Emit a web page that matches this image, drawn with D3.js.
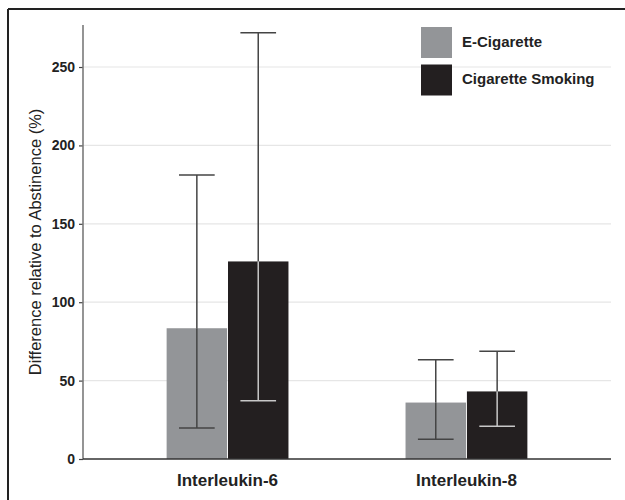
<!DOCTYPE html>
<html>
<head>
<meta charset="utf-8">
<script src="https://cdn.jsdelivr.net/npm/d3@7"></script>
<style>
  body { margin: 0; background: #fff; }
  svg { display: block; font-family: "Liberation Sans", Arial, sans-serif; }
</style>
</head>
<body>
<div id="container"></div>
<script>
/* DATA */
const categories = ["Interleukin-6", "Interleukin-8"];
const seriesNames = ["E-Cigarette", "Cigarette Smoking"];
const eCigMean = [83.4, 36.0];
const eCigLow = [19.8, 12.6];
const eCigHigh = [181.2, 63.3];
const smokeMean = [126.0, 43.1];
const smokeLow = [37.2, 20.9];
const smokeHigh = [271.9, 68.8];
const yTicks = [0, 50, 100, 150, 200, 250];

/* CONSTANTS */
const width = 625;
const height = 500;
const plotLeft = 83, plotRight = 611, plotTop = 25, plotBottom = 459;
const colors = ["#939598", "#231f20"];
const innerLine = ["#444", "#c8c8c8"]; // error bar colour when inside the bar

const rows = [];
categories.forEach((c, i) => {
  rows.push({ cat: c, s: 0, mean: eCigMean[i], lo: eCigLow[i], hi: eCigHigh[i] });
  rows.push({ cat: c, s: 1, mean: smokeMean[i], lo: smokeLow[i], hi: smokeHigh[i] });
});

const svg = d3.select("#container").append("svg")
  .attr("width", width)
  .attr("height", height);

/* SCALES */
const yScale = d3.scaleLinear().domain([0, 276.8]).range([plotBottom, plotTop]);
const x0 = d3.scaleBand().domain(categories).range([plotLeft, plotRight])
  .paddingInner(0.49).paddingOuter(0.35);
const x1 = d3.scaleBand().domain([0, 1]).range([0, x0.bandwidth()]).paddingInner(0.015);

/* frame (top and left edge only) */
svg.append("line").attr("x1", 8).attr("x2", width).attr("y1", 9).attr("y2", 9)
  .attr("stroke", "#222").attr("stroke-width", 2);
svg.append("line").attr("x1", 8).attr("x2", 8).attr("y1", 9).attr("y2", height)
  .attr("stroke", "#222").attr("stroke-width", 2);

/* GRID */
svg.append("g").selectAll("line")
  .data(yTicks.filter(d => d > 0))
  .join("line")
  .attr("x1", plotLeft).attr("x2", plotRight)
  .attr("y1", d => yScale(d)).attr("y2", d => yScale(d))
  .attr("stroke", "#e6e6e6").attr("stroke-width", 1.2);

/* Y AXIS */
const yAxis = d3.axisLeft(yScale).tickValues(yTicks).tickSize(4).tickPadding(4);
const yg = svg.append("g").attr("transform", `translate(${plotLeft},0)`).call(yAxis);
yg.select(".domain").remove();
yg.selectAll(".tick line").attr("stroke", "#444").attr("stroke-width", 1.2);
yg.selectAll(".tick text")
  .attr("font-size", 14).attr("font-weight", "bold").attr("fill", "#222")
  .attr("font-family", "Liberation Sans, Arial, sans-serif");
svg.append("line").attr("x1", plotLeft).attr("x2", plotLeft).attr("y1", plotTop).attr("y2", plotBottom)
  .attr("stroke", "#7a7a7a").attr("stroke-width", 1.6);

svg.append("text")
  .attr("transform", `translate(37,${(plotTop + plotBottom) / 2}) rotate(-90)`)
  .attr("text-anchor", "middle").attr("dominant-baseline", "middle")
  .attr("font-size", 16.5).attr("fill", "#222")
  .text("Difference relative to Abstinence (%)");

/* BARS */
const barX = d => x0(d.cat) + x1(d.s);
svg.append("g").selectAll("rect")
  .data(rows)
  .join("rect")
  .attr("x", barX)
  .attr("y", d => yScale(d.mean))
  .attr("width", x1.bandwidth())
  .attr("height", d => plotBottom - yScale(d.mean))
  .attr("fill", d => colors[d.s]);

/* ERROR BARS */
const capW = x1.bandwidth() * 0.59;
const eb = svg.append("g").selectAll("g").data(rows).join("g")
  .attr("transform", d => `translate(${barX(d) + x1.bandwidth() / 2},0)`);
// part above bar
eb.append("line").attr("x1", 0).attr("x2", 0)
  .attr("y1", d => yScale(d.hi)).attr("y2", d => yScale(d.mean))
  .attr("stroke", "#444").attr("stroke-width", 1.5);
eb.append("line").attr("x1", -capW / 2).attr("x2", capW / 2)
  .attr("y1", d => yScale(d.hi)).attr("y2", d => yScale(d.hi))
  .attr("stroke", "#444").attr("stroke-width", 1.5);
// part inside bar
eb.append("line").attr("x1", 0).attr("x2", 0)
  .attr("y1", d => yScale(d.mean)).attr("y2", d => yScale(d.lo))
  .attr("stroke", d => innerLine[d.s]).attr("stroke-width", 1.5);
eb.append("line").attr("x1", -capW / 2).attr("x2", capW / 2)
  .attr("y1", d => yScale(d.lo)).attr("y2", d => yScale(d.lo))
  .attr("stroke", d => innerLine[d.s]).attr("stroke-width", 1.5);

/* X AXIS */
svg.append("line").attr("x1", plotLeft).attr("x2", plotRight).attr("y1", plotBottom).attr("y2", plotBottom)
  .attr("stroke", "#333").attr("stroke-width", 1.6);
svg.append("g").selectAll("text")
  .data(categories)
  .join("text")
  .attr("x", d => x0(d) + x0.bandwidth() / 2)
  .attr("y", 486)
  .attr("text-anchor", "middle")
  .attr("font-size", 17).attr("font-weight", "bold").attr("fill", "#222")
  .text(d => d);

/* LEGEND */
const lg = svg.append("g").selectAll("g").data(seriesNames).join("g")
  .attr("transform", (d, i) => `translate(421,${27 + i * 37.5})`);
lg.append("rect").attr("width", 31).attr("height", 31)
  .attr("fill", (d, i) => colors[i]);
lg.append("text").attr("x", 41).attr("y", 16)
  .attr("dominant-baseline", "middle")
  .attr("font-size", 15).attr("font-weight", "bold").attr("fill", "#222")
  .text(d => d);
</script>
</body>
</html>
